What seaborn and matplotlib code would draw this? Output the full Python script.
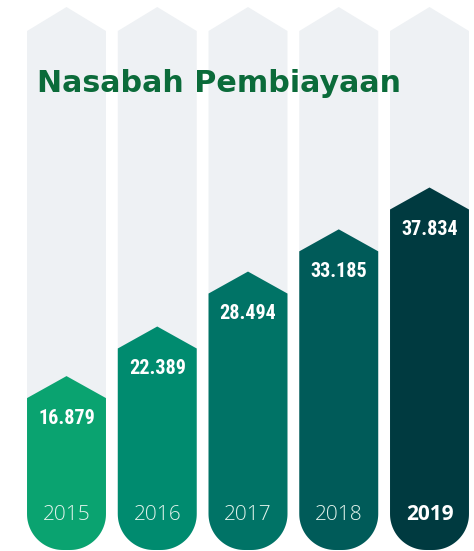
import numpy as np
import pandas as pd
import matplotlib
matplotlib.use("Agg")
import matplotlib.pyplot as plt
import seaborn as sns
from matplotlib.patches import Polygon
from matplotlib import font_manager

# ---- data ----
years = ["2015", "2016", "2017", "2018", "2019"]
customers = [16879, 22389, 28494, 33185, 37834]
value_labels = ["16.879", "22.389", "28.494", "33.185", "37.834"]
bar_colors = ["#0aa370", "#008b6f", "#007366", "#005b59", "#003a40"]
title = "Nasabah Pembiayaan"

installed = {f.name for f in font_manager.fontManager.ttflist}
narrow = [f for f in ["Roboto Condensed", "Liberation Sans Narrow", "Open Sans Condensed",
                      "Noto Sans Condensed", "Roboto"] if f in installed]
narrow_family = (narrow[:1] or ["DejaVu Sans"]) + ["DejaVu Sans"]
is_condensed = narrow_family[0] != "Roboto" and narrow_family[0] != "DejaVu Sans"

W, H = 474, 551
fig = plt.figure(figsize=(W / 100, H / 100), dpi=100)
ax = fig.add_axes([0, 0, 1, 1])

df = pd.DataFrame({"year": years, "customers": customers})
sns.barplot(data=df, x="year", y="customers", hue="year", palette=bar_colors,
            legend=False, width=0.87, saturation=1, ax=ax)

px_x = 90.75          # pixels per category step
px_per_unit = 9.0 / 1000
x0 = 66.5
ax.set_xlim(-x0 / px_x, (W - x0) / px_x)
ax.set_ylim(-1 / px_per_unit, (H - 1) / px_per_unit)
ax.axis("off")

def sx(p):  # pixels -> x data
    return p / px_x

def sy(p):  # pixels -> y data
    return p / px_per_unit

def capsule(xl, xr, yb, ys, apex, rx, ry, n=30):
    pts = [(xl, ys)]
    for t in np.linspace(np.pi, 1.5 * np.pi, n):
        pts.append((xl + rx + rx * np.cos(t), yb + ry + ry * np.sin(t)))
    for t in np.linspace(1.5 * np.pi, 2 * np.pi, n):
        pts.append((xr - rx + rx * np.cos(t), yb + ry + ry * np.sin(t)))
    pts.append((xr, ys))
    pts.append(((xl + xr) / 2, ys + apex))
    return pts

radius_px = 36
apex_px = 22
ytop = ax.get_ylim()[1]
bars = list(ax.patches)
for i, p in enumerate(bars):
    xl = p.get_x()
    w = p.get_width()
    h = p.get_height()
    col = p.get_facecolor()
    p.set_visible(False)
    # background column
    bg = capsule(xl, xl + w, 0, ytop - sy(31), sy(24), sx(radius_px), sy(radius_px))
    ax.add_patch(Polygon(bg, closed=True, facecolor="#eef1f4", edgecolor="none", zorder=0))
    fg = capsule(xl, xl + w, 0, h, sy(apex_px), sx(radius_px), sy(radius_px))
    ax.add_patch(Polygon(fg, closed=True, facecolor=col, edgecolor="none", zorder=2))
    xc = xl + w / 2
    ax.text(xc, h - sy(20), value_labels[i], ha="center", va="center",
            color="white", fontsize=14.5 if is_condensed else 13.5, fontweight="bold",
            family=narrow_family, zorder=3)
    last = i == len(bars) - 1
    ax.text(xc, sy(35), years[i], ha="center", va="center",
            color="white" if last else "#e2f3ec", fontsize=15,
            fontweight="bold" if last else "light",
            family=["Open Sans", "DejaVu Sans"], zorder=3)

fig.text(37 / W, 1 - 84 / H, title, ha="left", va="center", color="#0b6b3a",
         fontsize=21.7, fontweight="bold", family=["DejaVu Sans"])

fig.savefig("out.png", dpi=100)
